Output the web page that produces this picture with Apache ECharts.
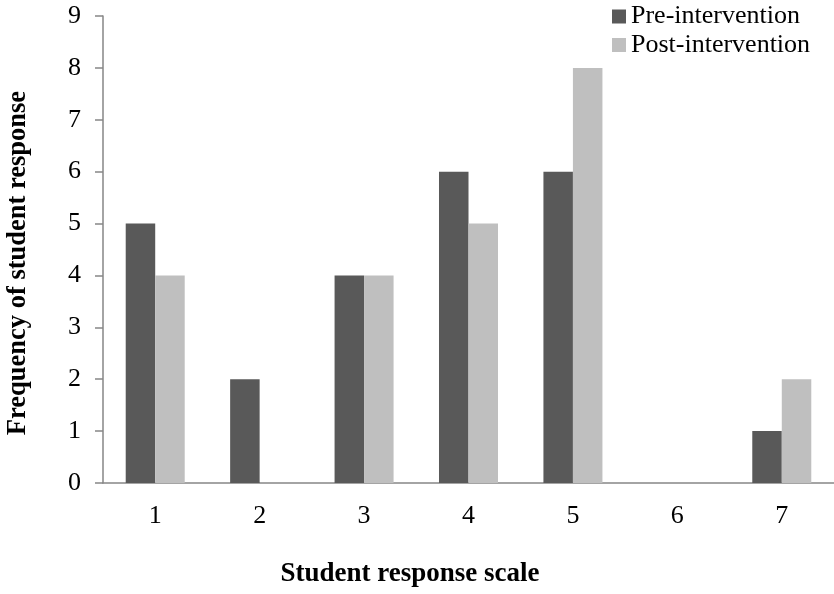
<!DOCTYPE html>
<html>
<head>
<meta charset="utf-8">
<title>Frequency of student response</title>
<script src="https://cdn.jsdelivr.net/npm/echarts@6/dist/echarts.min.js"></script>
<style>
  html, body { margin: 0; padding: 0; background: #ffffff; }
  #chart { width: 834px; height: 594px; }
</style>
</head>
<body>
<div id="chart"></div>
<script>
// Response scale categories and counts per group
var categories = ['1', '2', '3', '4', '5', '6', '7'];
var preIntervention = [5, 2, 4, 6, 6, 0, 1];
var postIntervention = [4, 0, 4, 5, 8, 0, 2];
var seriesNames = ['Pre-intervention', 'Post-intervention'];
var xTitle = 'Student response scale';
var yTitle = 'Frequency of student response';

var serif = '"Liberation Serif", "Times New Roman", Times, serif';
var axisGrey = '#868686';

var chart = echarts.init(document.getElementById('chart'), null, { renderer: 'canvas' });

chart.setOption({
  animation: false,
  backgroundColor: '#ffffff',
  textStyle: { fontFamily: serif, color: '#000' },
  grid: { left: 103, top: 16, width: 734, height: 467, containLabel: false },
  legend: {
    orient: 'vertical',
    left: 612,
    top: 3.5,
    padding: 0,
    itemWidth: 14,
    itemHeight: 14,
    itemGap: 2.5,
    icon: 'rect',
    textStyle: { fontFamily: serif, fontSize: 26, lineHeight: 26, color: '#000' },
    data: seriesNames
  },
  xAxis: {
    type: 'category',
    data: categories,
    axisLine: { lineStyle: { color: axisGrey, width: 1.5 } },
    axisTick: { show: false },
    axisLabel: { fontFamily: serif, fontSize: 26, color: '#000', margin: 20 },
    splitLine: { show: false }
  },
  yAxis: {
    type: 'value',
    min: 0,
    max: 9,
    interval: 1,
    axisLine: { show: true, lineStyle: { color: axisGrey, width: 1.5 } },
    axisTick: { show: true, inside: false, length: 8, lineStyle: { color: axisGrey, width: 1.5 } },
    axisLabel: { fontFamily: serif, fontSize: 26, color: '#000', margin: 22 },
    splitLine: { show: false }
  },
  series: [
    {
      name: seriesNames[0],
      type: 'bar',
      data: preIntervention,
      itemStyle: { color: '#595959' },
      barGap: '0%',
      barCategoryGap: '43.5%'
    },
    {
      name: seriesNames[1],
      type: 'bar',
      data: postIntervention,
      itemStyle: { color: '#bfbfbf' },
      barGap: '0%',
      barCategoryGap: '43.5%'
    }
  ],
  graphic: [
    {
      type: 'text',
      x: 410,
      y: 574,
      style: {
        text: xTitle,
        fontFamily: serif,
        fontSize: 27,
        fontWeight: 'bold',
        fill: '#000',
        align: 'center',
        verticalAlign: 'middle'
      }
    },
    {
      type: 'text',
      x: 18,
      y: 263,
      rotation: Math.PI / 2,
      style: {
        text: yTitle,
        fontFamily: serif,
        fontSize: 26.5,
        fontWeight: 'bold',
        fill: '#000',
        align: 'center',
        verticalAlign: 'middle'
      }
    }
  ]
});
</script>
</body>
</html>
